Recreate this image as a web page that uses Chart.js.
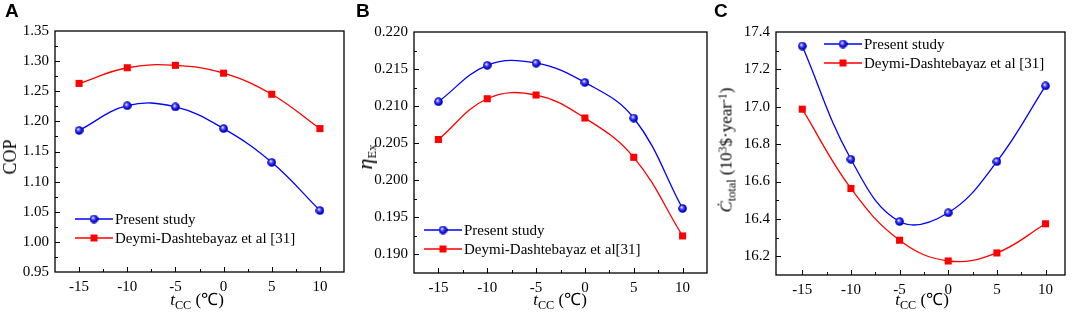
<!DOCTYPE html>
<html>
<head>
<meta charset="utf-8">
<script src="https://cdn.jsdelivr.net/npm/chart.js@4.4.1/dist/chart.umd.min.js"></script>
<style>
body { margin: 0; background: #fff; }
#wrap { position: relative; width: 1072px; height: 314px; overflow: hidden; background: #fff; font-family: "Liberation Serif", "Times New Roman", serif; color: #000; }
canvas { position: absolute; top: 0; }
.letter { position: absolute; top: 1px; font: bold 19px/1 "Liberation Sans", Arial, sans-serif; }
.xt { position: absolute; top: 291px; font-size: 17px; line-height: 1; white-space: nowrap; transform: translateX(-50%); }
.yt { position: absolute; font-size: 17px; font-weight: 400; line-height: 1; white-space: nowrap; transform: translate(-50%, -50%) rotate(-90deg); }
sub { font-size: 72%; vertical-align: -0.3em; line-height: 0; }
sup { font-size: 70%; vertical-align: 0.45em; line-height: 0; }
</style>
</head>
<body>
<div id="wrap">
  <canvas id="chartA" width="357" height="314" style="left:0px"></canvas>
  <canvas id="chartB" width="357" height="314" style="left:357px"></canvas>
  <canvas id="chartC" width="358" height="314" style="left:714px"></canvas>

  <div class="letter" style="left:5px">A</div>
  <div class="letter" style="left:356px">B</div>
  <div class="letter" style="left:714px">C</div>

  <div class="xt" style="left:197px"><i>t</i><sub>CC</sub> (℃)</div>
  <div class="xt" style="left:560px"><i>t</i><sub>CC</sub> (℃)</div>
  <div class="xt" style="left:922px"><i>t</i><sub>CC</sub> (℃)</div>

  <div class="yt" style="left:10px; top:157px; font-size:18px">COP</div>
  <div class="yt" style="left:365px; top:157px; font-size:22px"><i>η</i><sub style="font-size:58%">Ex</sub></div>
  <div class="yt" style="left:726px; top:150px; font-size:17px"><i>Ċ</i><sub>total</sub> (10<sup>3</sup>$·year<sup>-1</sup>)</div>
</div>

<script>
// x values: condenser temperature t_CC (°C)
const tcc = [-15, -10, -5, 0, 5, 10];
const xTicks = [-15, -10, -5, 0, 5, 10];

// panel A: COP
const copPresent = [1.185, 1.226, 1.224, 1.188, 1.132, 1.052];
const copDeymi = [1.263, 1.289, 1.293, 1.280, 1.245, 1.188];
const yTicksA = [0.95, 1.00, 1.05, 1.10, 1.15, 1.20, 1.25, 1.30, 1.35];

// panel B: exergy efficiency
const exPresent = [0.2106, 0.2155, 0.2158, 0.2132, 0.2084, 0.1962];
const exDeymi = [0.2055, 0.2110, 0.2115, 0.2084, 0.2031, 0.1925];
const yTicksB = [0.190, 0.195, 0.200, 0.205, 0.210, 0.215, 0.220];

// panel C: total cost rate
const costPresent = [17.325, 16.719, 16.386, 16.433, 16.707, 17.112];
const costDeymi = [16.987, 16.563, 16.286, 16.175, 16.218, 16.374];
const yTicksC = [16.2, 16.4, 16.6, 16.8, 17.0, 17.2, 17.4];

const tickFont = { family: '"Liberation Serif", "Times New Roman", serif', size: 15 };

// shaded blue ball used as the marker of "Present study"
function makeSphere(d) {
  const c = document.createElement('canvas');
  c.width = d; c.height = d;
  const g = c.getContext('2d');
  const r = d / 2;
  const grad = g.createRadialGradient(r * 0.75, r * 0.7, 0.2, r, r, r);
  grad.addColorStop(0, '#ffffff');
  grad.addColorStop(0.35, '#5050ff');
  grad.addColorStop(0.75, '#0000dd');
  grad.addColorStop(1, '#000070');
  g.fillStyle = grad;
  g.beginPath();
  g.arc(r, r, r - 0.2, 0, Math.PI * 2);
  g.fill();
  return c;
}
const sphere = makeSphere(9);

// box around the plot + inward major/minor ticks
const framePlugin = {
  id: 'frame',
  afterDatasetsDraw(chart) {
    const { ctx, chartArea: a, scales } = chart;
    ctx.save();
    ctx.strokeStyle = '#000';
    ctx.lineWidth = 1.3;
    ctx.strokeRect(a.left, a.top, a.right - a.left, a.bottom - a.top);
    ctx.lineWidth = 1;
    const ticksOf = (scale) => {
      const vals = scale.ticks.map(t => t.value);
      const out = [];
      vals.forEach((v, i) => {
        out.push([v, 5]);
        if (i < vals.length - 1) out.push([(v + vals[i + 1]) / 2, 3]);
      });
      const step = vals[1] - vals[0];
      out.push([vals[0] - step / 2, 3], [vals[vals.length - 1] + step / 2, 3]);
      return out;
    };
    ctx.beginPath();
    ticksOf(scales.x).forEach(([v, len]) => {
      const px = Math.round(scales.x.getPixelForValue(v)) + 0.5;
      if (px < a.left + 3 || px > a.right - 3) return;
      ctx.moveTo(px, a.bottom);
      ctx.lineTo(px, a.bottom - len);
    });
    ticksOf(scales.y).forEach(([v, len]) => {
      const py = Math.round(scales.y.getPixelForValue(v)) + 0.5;
      if (py < a.top + 3 || py > a.bottom - 3) return;
      ctx.moveTo(a.left, py);
      ctx.lineTo(a.left + len, py);
    });
    ctx.stroke();
    ctx.restore();
  }
};

// legend drawn inside the plot, line + marker + text
const legendPlugin = {
  id: 'inLegend',
  afterDraw(chart, args, opts) {
    const ctx = chart.ctx;
    ctx.save();
    ctx.font = '15px "Liberation Serif", "Times New Roman", serif';
    ctx.textBaseline = 'middle';
    ctx.fillStyle = '#000';
    chart.data.datasets.forEach((ds, i) => {
      const y = opts.rows[i];
      const x0 = opts.x, x1 = opts.x + opts.len, cx = (x0 + x1) / 2;
      ctx.strokeStyle = ds.borderColor;
      ctx.lineWidth = 1.3;
      ctx.beginPath();
      ctx.moveTo(x0, y);
      ctx.lineTo(x1, y);
      ctx.stroke();
      if (ds.pointStyle === 'rect') {
        ctx.fillStyle = ds.pointBackgroundColor;
        ctx.fillRect(cx - 3.5, y - 3.5, 7, 7);
      } else {
        ctx.drawImage(ds.pointStyle, cx - sphere.width / 2, y - sphere.height / 2);
      }
      ctx.fillStyle = '#000';
      ctx.fillText(ds.label, x1 + 2, y + 1);
    });
    ctx.restore();
  }
};

function makePanel(id, cfg) {
  return new Chart(document.getElementById(id), {
    type: 'line',
    data: {
      datasets: [
        {
          label: cfg.names[0],
          data: tcc.map((x, i) => ({ x: x, y: cfg.present[i] })),
          borderColor: '#0000ff',
          borderWidth: 1.3,
          pointStyle: sphere,
          tension: 0.4,
          fill: false
        },
        {
          label: cfg.names[1],
          data: tcc.map((x, i) => ({ x: x, y: cfg.deymi[i] })),
          borderColor: '#ff0000',
          borderWidth: 1.3,
          pointStyle: 'rect',
          pointRadius: 5,
          pointBorderWidth: 0,
          pointBackgroundColor: '#ff0000',
          tension: 0.4,
          fill: false
        }
      ]
    },
    options: {
      animation: false,
      responsive: false,
      events: [],
      layout: { padding: { top: cfg.top, right: cfg.right, left: 0, bottom: 0 } },
      plugins: {
        legend: { display: false },
        tooltip: { enabled: false },
        inLegend: { x: cfg.legendX, len: 38, rows: cfg.legendRows }
      },
      scales: {
        x: {
          type: 'linear',
          min: cfg.xMin,
          max: cfg.xMax,
          grid: { display: false, drawTicks: false },
          border: { display: false },
          afterBuildTicks: s => { s.ticks = xTicks.map(v => ({ value: v })); },
          afterFit: s => { s.height = 314 - cfg.bottom; },
          ticks: { font: tickFont, color: '#000', padding: 6, maxRotation: 0 }
        },
        y: {
          type: 'linear',
          min: cfg.yMin,
          max: cfg.yMax,
          grid: { display: false, drawTicks: false },
          border: { display: false },
          afterBuildTicks: s => { s.ticks = cfg.yTicks.map(v => ({ value: v })); },
          afterFit: s => { s.width = cfg.left; },
          ticks: {
            font: tickFont,
            color: '#000',
            padding: 6,
            callback: v => v.toFixed(cfg.decimals)
          }
        }
      }
    },
    plugins: [framePlugin, legendPlugin]
  });
}

makePanel('chartA', {
  present: copPresent, deymi: copDeymi, yTicks: yTicksA, decimals: 2,
  names: ['Present study', 'Deymi-Dashtebayaz et al [31]'],
  xMin: -17.5, xMax: 12.5, yMin: 0.95, yMax: 1.35,
  left: 55, right: 13, top: 31, bottom: 272,
  legendX: 75, legendRows: [219, 238]
});

makePanel('chartB', {
  present: exPresent, deymi: exDeymi, yTicks: yTicksB, decimals: 3,
  names: ['Present study', 'Deymi-Dashtebayaz et al[31]'],
  xMin: -17.5, xMax: 12.5, yMin: 0.1875, yMax: 0.220,
  left: 57, right: 7, top: 32, bottom: 273,
  legendX: 67, legendRows: [230, 249]
});

makePanel('chartC', {
  present: costPresent, deymi: costDeymi, yTicks: yTicksC, decimals: 1,
  names: ['Present study', 'Deymi-Dashtebayaz et al [31]'],
  xMin: -17.7, xMax: 12.0, yMin: 16.1, yMax: 17.4,
  left: 62, right: 7, top: 32, bottom: 275,
  legendX: 110, legendRows: [44, 63]
});
</script>
</body>
</html>
